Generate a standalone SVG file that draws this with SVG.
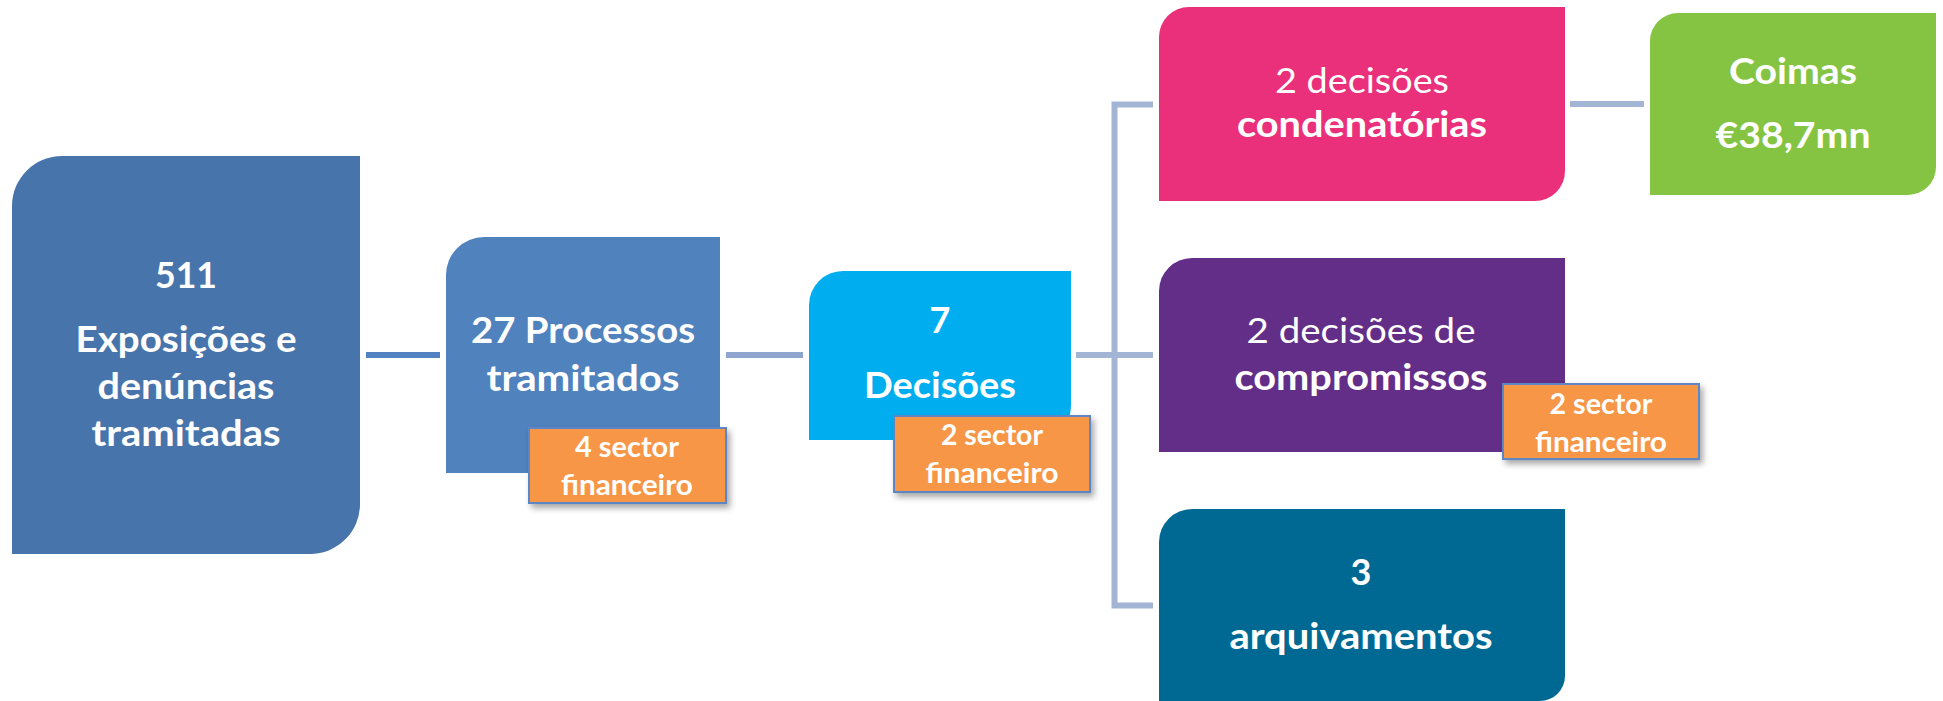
<svg xmlns="http://www.w3.org/2000/svg" width="1943" height="701" viewBox="0 0 1943 701">
<defs>
<filter id="shadow" x="-20%" y="-20%" width="140%" height="160%">
<feDropShadow dx="3" dy="4" stdDeviation="3" flood-color="#000" flood-opacity="0.35"/>
</filter>
<style>
.t{font-family:Lato,"Open Sans","Liberation Sans",sans-serif;fill:#fff;text-anchor:middle}
.b{font-weight:700}
.big{font-size:36px}
.reg{font-size:35px;font-weight:400}
.lab{font-size:29px;font-weight:700}
.conn{fill:none;stroke-width:6}
.tag{fill:#F79646;stroke:#5B87C6;stroke-width:2;filter:url(#shadow)}
</style>
</defs>
<rect width="1943" height="701" fill="#fff"/>
<g id="connectors">
<line class="conn" x1="366" y1="355" x2="440" y2="355" stroke="#5282C2"/>
<line class="conn" x1="726" y1="355" x2="803" y2="355" stroke="#8EA5D0"/>
<line class="conn" x1="1076" y1="355" x2="1153" y2="355" stroke="#A3B5D4"/>
<path class="conn" d="M1153,104.5 H1114.5 V605.5 H1153" stroke="#A3B5D4"/>
<line class="conn" x1="1570" y1="104" x2="1644" y2="104" stroke="#A3B5D4"/>
</g>
<g id="node-511">
<path d="M62,156 H360 V504 A50,50 0 0 1 310,554 H12 V206 A50,50 0 0 1 62,156 Z" fill="#4774AA"/>
<text class="t b big" x="186" y="288" textLength="62" lengthAdjust="spacingAndGlyphs">511</text>
<text class="t b big" x="186" y="352" textLength="221" lengthAdjust="spacingAndGlyphs">Exposições e</text>
<text class="t b big" x="186" y="399" textLength="177" lengthAdjust="spacingAndGlyphs">denúncias</text>
<text class="t b big" x="186" y="446" textLength="189" lengthAdjust="spacingAndGlyphs">tramitadas</text>
</g>
<g id="node-processos">
<path d="M484,237 H720 V438 A35,35 0 0 1 685,473 H446 V275 A38,38 0 0 1 484,237 Z" fill="#5082BE"/>
<text class="t b big" x="583" y="343" textLength="224" lengthAdjust="spacingAndGlyphs">27 Processos</text>
<text class="t b big" x="583" y="391" textLength="193" lengthAdjust="spacingAndGlyphs">tramitados</text>
</g>
<g id="tag-processos">
<rect class="tag" x="529" y="428" width="197" height="75"/>
<text class="t lab" x="627" y="457" textLength="104" lengthAdjust="spacingAndGlyphs">4 sector</text>
<text class="t lab" x="627" y="495" textLength="132" lengthAdjust="spacingAndGlyphs">financeiro</text>
</g>
<g id="node-decisoes">
<path d="M843,271 H1071 V406 A34,34 0 0 1 1037,440 H809 V305 A34,34 0 0 1 843,271 Z" fill="#00AEEF"/>
<text class="t b big" x="940" y="333">7</text>
<text class="t b big" x="940" y="398" textLength="152" lengthAdjust="spacingAndGlyphs">Decisões</text>
</g>
<g id="tag-decisoes">
<rect class="tag" x="894" y="416" width="196" height="76"/>
<text class="t lab" x="992" y="445" textLength="102" lengthAdjust="spacingAndGlyphs">2 sector</text>
<text class="t lab" x="992" y="483" textLength="133" lengthAdjust="spacingAndGlyphs">financeiro</text>
</g>
<g id="node-condenatorias">
<path d="M1189,7 H1565 V171 A30,30 0 0 1 1535,201 H1159 V37 A30,30 0 0 1 1189,7 Z" fill="#EA307B"/>
<text class="t reg" x="1362" y="93" textLength="174" lengthAdjust="spacingAndGlyphs">2 decisões</text>
<text class="t b big" x="1362" y="137" textLength="250" lengthAdjust="spacingAndGlyphs">condenatórias</text>
</g>
<g id="node-coimas">
<path d="M1678,13 H1936 V167 A28,28 0 0 1 1908,195 H1650 V41 A28,28 0 0 1 1678,13 Z" fill="#84C442"/>
<text class="t b big" x="1793" y="84" textLength="128" lengthAdjust="spacingAndGlyphs">Coimas</text>
<text class="t b big" x="1793" y="148" textLength="155" lengthAdjust="spacingAndGlyphs">€38,7mn</text>
</g>
<g id="node-compromissos">
<path d="M1192,258 H1565 V419 A33,33 0 0 1 1532,452 H1159 V291 A33,33 0 0 1 1192,258 Z" fill="#632E87"/>
<text class="t reg" x="1361" y="343" textLength="229" lengthAdjust="spacingAndGlyphs">2 decisões de</text>
<text class="t b big" x="1361" y="390" textLength="253" lengthAdjust="spacingAndGlyphs">compromissos</text>
</g>
<g id="tag-compromissos">
<rect class="tag" x="1503" y="384" width="196" height="75"/>
<text class="t lab" x="1601" y="414" textLength="103" lengthAdjust="spacingAndGlyphs">2 sector</text>
<text class="t lab" x="1601" y="452" textLength="132" lengthAdjust="spacingAndGlyphs">financeiro</text>
</g>
<g id="node-arquivamentos">
<path d="M1192,509 H1565 V676 A25,25 0 0 1 1540,701 H1159 V542 A33,33 0 0 1 1192,509 Z" fill="#006993"/>
<text class="t b big" x="1361" y="585">3</text>
<text class="t b big" x="1361" y="649" textLength="263" lengthAdjust="spacingAndGlyphs">arquivamentos</text>
</g>
</svg>
